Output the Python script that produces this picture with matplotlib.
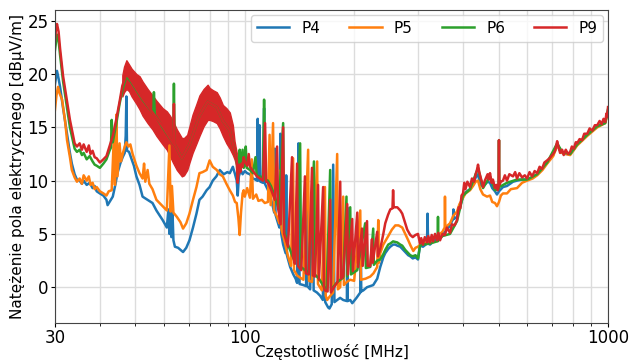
import matplotlib.pyplot as plt
from matplotlib.ticker import FixedLocator, NullFormatter

# P4 - (freq MHz, level dBuV/m)
p4 = [(30.0, 19.0), (30.4, 20.3), (30.7, 19.6), (31.0, 18.8), (31.6, 16.8), (32.4, 14.4), (33.0, 12.6),
      (33.4, 11.6), (34.0, 10.6), (34.5, 10.1), (35.1, 10.0), (35.6, 9.7), (36.0, 10.0), (36.7, 9.6),
      (37.4, 9.8), (38.1, 9.3), (38.6, 9.5), (39.1, 9.0), (39.9, 8.8), (40.8, 8.6), (41.6, 8.2),
      (41.9, 7.7), (42.6, 8.1), (43.3, 8.5), (44.0, 9.6), (44.6, 10.7), (45.4, 11.6), (46.1, 12.2),
      (46.7, 12.6), (47.0, 14.2), (47.2, 17.9), (47.4, 12.8), (48.0, 12.7), (48.8, 12.0), (49.5, 11.4),
      (50.3, 10.4), (51.3, 9.6), (52.3, 8.5), (54.0, 8.2), (55.7, 7.9), (57.1, 7.2), (59.4, 6.3),
      (61.0, 5.6), (61.6, 7.3), (62.0, 5.0), (62.4, 7.5), (62.8, 4.7), (63.2, 7.2), (63.6, 4.4),
      (64.2, 3.8), (65.5, 3.7), (67.6, 3.3), (69.0, 3.7), (70.4, 4.4), (72.0, 5.6), (73.6, 6.9),
      (75.0, 8.2), (76.5, 8.5), (78.5, 9.1), (80.0, 9.4), (81.6, 10.0), (83.5, 10.4), (85.3, 11.0),
      (87.5, 10.6), (89.5, 10.8), (90.9, 10.7), (92.7, 11.3), (94.0, 10.6), (95.0, 10.0), (95.6, 8.6),
      (96.3, 10.4), (97.5, 11.0), (98.6, 10.6), (100.0, 10.9),
      (101.5, 10.7), (103.3, 10.6), (105.3, 10.2), (107.0, 10.1), (108.0, 10.0), (108.5, 15.8),
      (109.0, 10.0), (109.8, 15.2), (110.4, 9.9), (112.2, 9.8), (113.0, 16.8), (113.6, 9.7),
      (115.5, 9.2), (117.4, 8.6), (119.0, 7.8), (120.5, 7.0), (121.0, 13.0), (121.5, 6.8),
      (122.7, 6.3), (124.5, 5.6), (125.3, 14.4), (126.0, 5.0), (127.5, 4.0), (129.5, 3.2),
      (130.0, 10.5), (130.6, 3.0), (133.3, 1.9), (136.0, 1.2), (138.0, 0.8), (139.3, 0.4),
      (140.5, 13.5), (141.5, 0.3), (145.0, 0.2), (147.5, 0.1), (148.0, 9.0), (148.6, 0.1),
      (151.3, -0.2), (154.0, 10.5), (154.7, -0.3), (158.0, -0.5), (161.2, -0.8), (164.0, -1.2),
      (165.5, 7.0), (166.5, -1.4), (169.6, -1.9), (171.0, -2.0), (173.5, -1.6), (175.1, 11.5),
      (176.5, -1.4), (179.6, -1.2), (183.0, -1.0), (186.6, -1.2), (191.0, -1.3), (191.4, 7.5),
      (192.0, -1.3), (195.1, -1.2), (197.6, -1.5), (203.0, -1.0), (207.9, -0.5), (208.5, 5.5),
      (209.2, -0.4), (211.9, -0.3), (217.0, 0.0), (221.5, 0.1), (225.7, 0.2), (231.5, 0.8),
      (236.0, 1.9), (240.6, 2.8), (243.6, 3.2), (248.3, 3.6), (251.5, 3.8), (256.0, 4.0),
      (259.6, 4.0), (262.9, 3.9), (267.9, 3.8), (271.3, 3.6), (276.5, 3.3), (281.8, 3.0),
      (285.4, 2.9), (290.0, 2.7), (295.0, 2.8), (299.8, 2.6),
      (303.6, 3.9), (309.4, 3.8), (317.4, 4.1), (318.5, 6.9), (319.5, 4.1), (323.5, 4.0),
      (330.0, 4.3), (338.2, 4.5), (344.7, 4.6), (350.0, 4.9), (355.7, 5.2), (362.0, 5.5),
      (367.2, 5.8), (374.3, 6.4), (375.2, 7.3), (376.0, 6.4), (383.9, 6.6), (390.0, 7.4),
      (398.8, 8.5), (405.0, 8.9), (416.9, 9.2), (425.0, 9.6), (432.0, 10.3), (438.6, 10.6),
      (445.0, 9.6), (452.7, 9.5), (460.0, 9.7), (466.0, 9.9), (473.2, 9.8), (480.0, 9.3),
      (488.4, 9.0), (494.6, 8.7), (500.9, 9.0), (513.8, 9.4), (527.0, 9.5), (547.5, 9.9),
      (561.6, 10.0), (580.0, 10.1), (598.6, 10.1), (620.0, 10.3), (638.1, 10.6), (660.0, 11.1),
      (679.8, 11.7), (706.2, 12.4), (724.3, 13.4), (735.0, 12.9), (747.6, 12.6), (765.0, 12.5),
      (786.5, 12.5), (805.0, 12.9), (822.2, 13.4), (850.0, 13.8), (876.6, 14.3), (905.0, 14.7),
      (934.0, 15.1), (960.0, 15.3), (982.4, 15.5), (1000.0, 16.6)]

# P5
p5 = [(30.0, 16.6), (30.3, 18.0), (30.6, 18.8), (30.9, 18.2), (31.4, 17.6), (32.0, 15.6), (32.4, 13.8),
      (33.0, 12.2), (33.4, 11.0), (34.0, 10.3), (34.5, 9.9), (35.1, 10.2), (35.6, 9.7), (36.0, 10.5),
      (36.7, 10.0), (37.2, 10.4), (37.6, 9.6), (38.1, 9.8), (38.6, 9.2), (39.1, 9.4), (39.9, 9.0),
      (40.8, 8.8), (41.6, 8.6), (42.2, 9.0), (43.0, 9.1), (43.6, 14.1), (43.9, 9.6), (44.3, 16.2),
      (44.6, 10.4), (45.2, 13.5), (45.6, 11.8), (46.1, 12.5), (46.7, 13.2), (47.2, 13.6), (47.8, 13.2),
      (48.4, 13.4), (49.1, 12.5), (50.3, 11.4), (51.3, 10.7), (52.3, 10.2), (52.8, 11.6), (53.2, 9.9),
      (54.0, 11.0), (54.6, 9.7), (55.7, 9.2), (57.1, 8.2), (59.4, 7.6), (61.0, 7.2), (62.0, 13.3),
      (62.5, 7.1), (63.0, 9.5), (63.6, 7.0), (65.0, 6.6), (66.5, 6.1), (67.6, 5.5), (69.0, 6.0),
      (70.4, 6.9), (72.0, 8.2), (73.6, 9.4), (75.0, 10.7), (76.5, 10.8), (78.5, 11.0), (80.0, 11.9),
      (81.6, 11.3), (83.7, 11.0), (85.3, 10.6), (87.0, 10.4), (89.0, 9.7), (90.9, 9.1), (92.7, 8.6),
      (94.0, 8.0), (95.0, 7.9), (96.0, 6.5), (96.8, 4.9), (97.6, 7.0), (98.6, 8.8), (99.3, 9.1),
      (100.0, 8.5),
      (101.5, 9.3), (103.3, 8.4), (104.5, 12.0), (105.3, 8.3), (107.5, 8.7), (109.0, 8.1),
      (111.4, 8.2), (113.5, 7.9), (115.8, 8.0), (117.0, 14.3), (117.8, 7.7), (119.6, 15.4),
      (120.3, 7.2), (122.7, 6.6), (124.5, 6.0), (125.5, 11.0), (126.2, 5.4), (128.5, 4.4),
      (131.5, 2.9), (134.0, 2.0), (135.8, 12.1), (136.6, 1.6), (139.3, 1.1), (142.0, 0.9),
      (145.0, 0.7), (149.4, 12.9), (150.2, 0.6), (153.1, 0.5), (158.2, 11.8), (159.0, 0.3),
      (163.0, -0.3), (166.2, 9.4), (167.0, -0.8), (168.6, -1.2), (171.0, -0.9), (175.0, -0.5),
      (179.6, 12.5), (180.4, -0.2), (183.1, 0.0), (186.6, 8.5), (187.4, 0.2), (191.0, 0.5),
      (195.1, 0.7), (200.0, 0.6), (207.9, 7.2), (208.7, 0.7), (215.0, 0.8), (221.5, 1.0),
      (226.0, 1.3), (231.5, 1.9), (233.0, 6.3), (234.0, 2.3), (236.0, 3.2), (240.6, 4.0),
      (248.3, 4.8), (254.0, 5.4), (259.6, 5.8), (265.0, 5.8), (271.3, 5.6), (276.5, 5.0),
      (281.8, 4.4), (286.0, 3.9), (291.0, 3.4), (295.0, 3.7), (299.8, 3.8),
      (303.6, 4.0), (309.4, 4.1), (317.4, 4.2), (323.5, 4.3), (330.0, 4.6), (338.2, 4.7),
      (344.7, 5.0), (350.0, 5.2), (355.0, 5.6), (355.7, 8.5), (356.5, 5.6), (367.2, 6.0),
      (375.0, 6.7), (383.9, 7.1), (390.0, 7.8), (398.8, 8.4), (405.0, 8.8), (416.9, 9.1),
      (425.0, 9.5), (432.0, 9.9), (438.6, 10.0), (445.0, 9.2), (452.7, 8.7), (464.3, 8.5),
      (473.2, 8.6), (480.0, 8.0), (488.4, 7.9), (494.6, 7.6), (500.9, 8.0), (507.0, 8.6),
      (513.8, 8.8), (527.0, 8.8), (540.0, 9.2), (561.6, 9.3), (580.0, 9.8), (598.6, 10.0),
      (620.0, 10.2), (638.1, 10.5), (660.0, 11.0), (679.8, 11.6), (706.2, 12.3), (724.3, 13.3),
      (747.6, 12.6), (786.5, 12.4), (822.2, 13.3), (876.6, 14.2), (934.0, 15.0), (982.4, 15.4),
      (1000.0, 16.5)]

# P6
p6 = [(30.0, 22.2), (30.4, 23.7), (30.7, 23.2), (31.0, 21.8), (31.6, 19.3), (32.4, 16.8), (33.0, 15.0),
      (33.6, 13.8), (34.0, 13.0), (34.5, 12.7), (35.1, 12.9), (35.6, 12.4), (36.0, 12.6), (36.7, 12.0),
      (37.4, 12.3), (38.1, 11.8), (38.6, 11.5), (39.1, 11.4), (39.9, 11.2), (40.8, 11.6), (41.6, 12.0),
      (42.4, 12.8), (42.8, 13.1), (43.0, 15.7), (43.3, 13.6), (44.3, 15.4), (45.2, 17.2), (46.1, 18.6),
      (47.2, 19.8), (48.8, 19.2), (52.3, 17.6), (56.0, 16.3), (56.2, 18.3), (56.5, 16.2), (59.4, 15.0),
      (63.5, 13.5), (63.8, 19.1), (64.1, 13.4), (67.1, 12.1), (70.4, 13.4), (75.0, 16.1), (79.0, 17.4),
      (83.7, 16.9), (87.0, 15.6), (90.9, 14.7), (93.7, 12.8), (95.0, 12.0), (95.6, 10.2), (96.8, 12.9),
      (97.5, 11.3), (98.6, 12.9), (99.3, 11.2),
      (100.0, 11.5), (100.6, 13.2), (101.3, 11.2), (103.3, 11.0), (105.3, 10.7), (107.0, 12.2),
      (107.8, 10.5), (110.1, 10.4), (112.2, 10.3), (113.0, 17.6), (113.8, 10.1), (115.8, 10.0),
      (118.0, 9.5), (121.0, 8.5), (124.0, 7.3), (127.5, 15.4), (128.3, 5.3), (131.5, 4.0),
      (135.0, 3.0), (137.4, 2.4), (142.0, 13.5), (142.8, 1.9), (146.4, 1.6), (150.0, 1.4),
      (155.0, 11.8), (155.8, 1.2), (160.0, 0.8), (166.2, -0.1), (168.0, -0.2), (171.8, 11.0),
      (172.6, -0.3), (176.0, 0.1), (180.0, 0.5), (186.6, 0.9), (190.5, 8.5), (191.3, 1.0),
      (195.1, 7.5), (196.0, 1.2), (204.0, 1.6), (214.5, 6.0), (215.4, 1.8), (221.5, 1.9),
      (225.7, 5.5), (226.6, 2.1), (231.5, 2.5), (236.0, 2.6), (240.6, 3.1), (243.6, 3.5),
      (248.3, 4.0), (251.5, 4.1), (256.0, 4.3), (262.9, 4.2), (267.9, 4.0), (271.3, 3.9),
      (276.5, 3.5), (281.8, 3.2), (285.4, 3.0), (290.0, 2.9), (295.0, 3.0), (299.8, 2.7),
      (303.6, 3.9), (309.4, 4.0), (323.5, 4.1), (338.2, 4.3), (339.5, 4.3), (340.3, 6.6),
      (341.0, 4.4), (350.0, 4.8), (367.2, 5.0), (383.9, 6.2), (398.8, 8.6), (416.9, 9.2),
      (438.6, 11.2), (452.7, 9.3), (473.2, 10.4), (488.4, 9.1), (499.5, 9.2), (500.9, 13.8),
      (502.0, 9.4), (527.0, 9.8), (561.6, 10.1), (598.6, 10.1), (638.1, 10.6), (679.8, 11.7),
      (724.3, 13.5), (747.6, 12.7), (786.5, 12.5), (822.2, 13.4), (876.6, 14.3), (934.0, 15.1),
      (982.4, 15.4), (1000.0, 16.7)]

# P9
p9 = [(30.0, 23.0), (30.2, 24.2), (30.4, 24.7), (30.7, 24.0), (31.0, 22.4), (31.6, 19.8), (32.4, 17.4),
      (33.0, 15.7), (33.6, 14.4), (34.0, 13.5), (34.5, 13.2), (35.1, 13.5), (35.6, 12.9), (36.0, 13.4),
      (36.7, 12.7), (37.2, 13.3), (37.6, 12.5), (38.1, 12.8), (38.6, 12.2), (39.1, 12.1), (39.9, 11.7),
      (40.8, 12.0), (41.6, 12.3), (42.4, 13.2), (43.3, 14.2), (44.3, 15.8), (45.2, 17.4), (46.0, 18.9),
      (47.2, 20.0), (48.0, 19.7), (50.3, 18.6), (52.3, 17.7), (55.7, 16.4), (59.4, 15.1), (63.5, 13.5),
      (63.8, 17.2), (64.1, 13.4), (67.1, 12.1), (70.4, 13.4), (75.0, 16.1), (79.0, 17.4), (83.7, 16.9),
      (87.0, 15.6), (90.9, 14.7), (93.7, 12.8), (95.0, 12.0), (95.6, 9.8), (96.4, 11.5), (97.2, 10.8),
      (98.0, 11.6), (98.6, 11.3), (99.3, 12.2),
      (100.0, 11.8), (101.5, 11.4), (102.5, 12.5), (103.3, 11.3), (105.3, 10.9), (108.0, 10.4),
      (110.1, 10.2), (112.2, 10.0), (113.7, 15.4), (114.5, 9.9), (115.8, 9.8), (118.0, 9.2),
      (121.0, 8.2), (122.7, 13.2), (123.5, 7.4), (125.5, 5.9), (127.5, 15.0), (128.3, 5.0),
      (131.5, 3.8), (134.9, 12.2), (135.7, 2.9), (137.4, 2.2), (139.3, 11.6), (140.1, 2.0),
      (143.0, 1.6), (146.4, 10.4), (147.2, 1.3), (150.0, 1.2), (153.1, 11.2), (154.0, 1.1),
      (156.0, 1.0), (159.1, 9.6), (160.0, 0.7), (164.3, 9.4), (165.1, 0.0), (166.2, -0.3),
      (169.0, -0.4), (171.8, 8.2), (172.6, -0.5), (176.0, 0.0), (180.0, 0.5), (183.1, 9.9),
      (184.0, 0.8), (186.6, 1.0), (191.4, 7.8), (192.2, 1.2), (197.6, 6.4), (198.4, 1.5),
      (204.0, 7.0), (204.9, 1.9), (210.2, 5.5), (211.1, 2.0), (217.0, 6.2), (218.0, 2.0),
      (221.5, 2.0), (223.9, 4.5), (225.0, 2.3), (231.5, 5.2), (232.5, 2.9), (236.0, 3.6),
      (240.6, 5.0), (243.6, 6.0), (248.0, 6.8), (251.5, 7.3), (255.0, 7.4), (256.0, 9.1),
      (257.0, 7.5), (262.9, 7.5), (267.9, 7.2), (271.3, 6.9), (276.5, 6.0), (280.0, 5.4),
      (285.4, 4.9), (290.0, 4.7), (295.0, 4.9), (299.8, 5.0),
      (303.6, 4.1), (306.0, 4.6), (309.4, 4.0), (313.0, 4.7), (317.4, 4.2), (320.0, 4.8),
      (323.5, 4.2), (327.0, 4.9), (330.0, 4.3), (334.0, 5.0), (338.2, 4.4), (341.0, 5.1),
      (344.7, 4.4), (350.0, 5.0), (355.7, 4.9), (360.0, 5.6), (367.2, 5.1), (372.0, 5.9),
      (378.0, 5.8), (383.9, 6.3), (388.0, 7.5), (392.0, 7.4), (395.0, 8.6), (398.8, 8.8),
      (402.0, 9.8), (405.0, 9.2), (410.0, 9.9), (416.9, 9.4), (422.0, 10.2), (428.0, 9.9),
      (432.0, 10.6), (435.0, 10.9), (438.6, 11.5), (442.0, 10.8), (446.0, 10.3), (450.0, 9.8),
      (452.7, 9.4), (458.0, 10.0), (462.0, 10.3), (466.0, 10.6), (470.0, 10.1), (473.2, 10.7),
      (478.0, 9.8), (482.0, 10.1), (488.4, 9.3), (493.0, 9.6), (497.0, 9.1), (499.5, 9.4),
      (500.9, 13.8), (502.0, 9.6), (507.0, 9.9), (513.8, 10.0), (520.0, 10.5), (527.0, 10.0),
      (535.0, 10.6), (547.5, 10.4), (555.0, 10.8), (561.6, 10.2), (570.0, 10.7), (580.0, 10.3),
      (590.0, 10.5), (598.6, 10.2), (608.0, 10.8), (618.0, 10.4), (628.0, 10.9), (638.1, 10.7),
      (648.0, 11.3), (658.0, 11.1), (668.0, 11.7), (679.8, 11.9), (690.0, 12.1), (706.2, 12.5),
      (715.0, 12.8), (724.3, 13.7), (730.0, 13.2), (738.0, 12.6), (747.6, 12.9), (755.0, 12.4),
      (765.0, 12.9), (776.0, 12.5), (786.5, 12.7), (795.0, 13.2), (805.0, 13.0), (815.0, 13.6),
      (822.2, 13.5), (835.0, 13.9), (848.0, 13.8), (860.0, 14.4), (876.6, 14.4), (890.0, 14.9),
      (905.0, 14.7), (920.0, 15.2), (934.0, 15.2), (948.0, 15.6), (960.0, 15.3), (972.0, 15.8),
      (982.4, 15.5), (990.0, 16.3), (995.0, 16.0), (1000.0, 16.9)]

# dense ripple of P9 between ~46 and 95 MHz, read as lower / upper envelope
p9_band_f = [46.0, 46.5, 47.2, 48.0, 48.8, 50.3, 51.3, 52.3, 54.0, 55.7, 57.1, 59.4, 61.0, 62.2, 63.4,
             65.0, 67.1, 68.0, 69.4, 70.4, 71.8, 73.6, 75.0, 77.0, 79.0, 80.0, 81.6, 83.7, 85.3, 87.0,
             89.0, 90.9, 92.7, 93.7, 95.0]
p9_band_lo = [17.9, 18.3, 18.6, 18.4, 17.9, 17.2, 16.7, 16.1, 15.4, 14.8, 14.2, 13.4, 12.9, 12.3, 11.7,
              11.0, 10.4, 10.5, 11.0, 11.7, 12.6, 13.5, 14.2, 15.1, 15.7, 15.7, 15.6, 15.4, 14.9, 14.2,
              13.5, 13.0, 12.4, 12.0, 11.3]
p9_band_hi = [19.9, 20.7, 21.3, 20.9, 20.5, 20.0, 19.8, 19.3, 18.6, 18.0, 17.5, 16.8, 16.5, 16.1, 15.6,
              14.8, 14.0, 14.0, 14.3, 15.1, 16.2, 17.2, 18.0, 18.6, 19.0, 18.7, 18.5, 18.3, 17.8, 17.1,
              16.8, 16.4, 15.2, 13.7, 12.6]

names = ["P4", "P5", "P6", "P9"]
colors = ["#1f77b4", "#ff7f0e", "#2ca02c", "#d62728"]

fig, ax = plt.subplots(figsize=(6.31, 3.62), dpi=100)
fig.subplots_adjust(left=0.087, right=0.9636, top=0.972, bottom=0.108)

for name, data, c in zip(names, [p4, p5, p6, p9], colors):
    f = [d[0] for d in data]
    v = [d[1] for d in data]
    ax.plot(f, v, color=c, lw=1.8, label=name)
ax.fill_between(p9_band_f, p9_band_lo, p9_band_hi, color=colors[3], lw=1.0, edgecolor=colors[3])

ax.set_xscale("log")
ax.set_xlim(30, 1000)
ax.set_ylim(-3.35, 26.0)
ax.xaxis.set_major_locator(FixedLocator([30, 100, 1000]))
ax.xaxis.set_minor_locator(FixedLocator([40, 50, 60, 70, 80, 90, 200, 300, 400, 500, 600, 700, 800, 900]))
ax.xaxis.set_minor_formatter(NullFormatter())
ax.set_xticklabels(["30", "100", "1000"])
ax.set_yticks([0, 5, 10, 15, 20, 25])
ax.tick_params(labelsize=12, length=3, pad=1.5)
ax.tick_params(which="minor", length=2)
ax.grid(True, which="both", color="#dcdcdc", lw=1)
ax.set_axisbelow(True)
for s in ax.spines.values():
    s.set_color("#444444")

ax.set_xlabel("Częstotliwość [MHz]", fontsize=11, labelpad=-2)
ax.set_ylabel("Natężenie pola elektrycznego [dBµV/m]", fontsize=11, labelpad=1.5)
ax.legend(loc="upper right", ncol=4, fontsize=11, handlelength=2.1, columnspacing=1.9,
          borderaxespad=0.3)

fig.savefig("out.png", dpi=100)
